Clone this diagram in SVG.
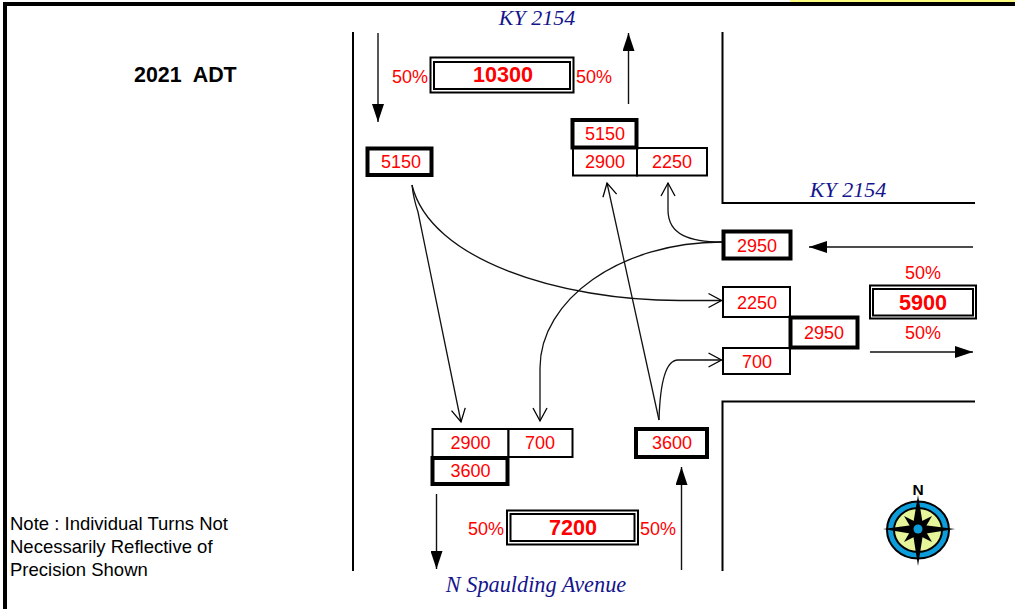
<svg xmlns="http://www.w3.org/2000/svg" width="1015" height="609" viewBox="0 0 1015 609">
<defs>
<marker id="solid" markerUnits="userSpaceOnUse" markerWidth="19" markerHeight="12" refX="18" refY="6" orient="auto"><path d="M0 0L18 6L0 12Z" fill="#000"/></marker>
<marker id="open" markerUnits="userSpaceOnUse" markerWidth="14" markerHeight="16" refX="13" refY="7" orient="auto" overflow="visible"><path d="M0 0L13 7L0 14" fill="none" stroke="#000" stroke-width="1.3"/></marker>
</defs>
<style>
text{font-family:"Liberation Sans",Arial,sans-serif;fill:#f00;font-size:18px;text-anchor:middle}
.big{font-size:21.6px;font-weight:bold}
.road{font-family:"Liberation Serif","Times New Roman",serif;font-style:italic;fill:#14148c;font-size:22px}
.blk{fill:#000;text-anchor:start;font-size:18.500px}
.thin{fill:#fff;stroke:#000;stroke-width:2}
.thick{fill:#fff;stroke:#000;stroke-width:4}
.dbl{fill:#fff;stroke:#000;stroke-width:2}
.rd{fill:none;stroke:#000;stroke-width:2}
.s{fill:none;stroke:#111;stroke-width:1.4;marker-end:url(#solid)}
.o{fill:none;stroke:#111;stroke-width:1.3;marker-end:url(#open)}
</style>
<rect width="1015" height="609" fill="#fff"/>
<rect x="790" y="0" width="225" height="2" fill="#ffff80"/>
<rect x="3" y="2" width="1012" height="4" fill="#000"/>
<rect x="3" y="2" width="4" height="607" fill="#000"/>
<g id="roads">
<path class="rd" d="M353 32V571"/>
<path class="rd" d="M722.500 32V203H975"/>
<path class="rd" d="M722.500 571V401.500H975"/>
</g>
<g id="connectors">
<path class="s" d="M378 33V122"/>
<path class="s" d="M628.500 104V33"/>
<path class="s" d="M973 247H809"/>
<path class="s" d="M870 352H973"/>
<path class="s" d="M436.500 494V569"/>
<path class="s" d="M681.500 570V467"/>
<path class="o" d="M412 185C413 195 415 203 418 212L461 422"/>
<path class="o" d="M412 185C430 260 560 300.500 680 300.500H721.500"/>
<path class="o" d="M659 420L607 183"/>
<path class="o" d="M659 420C660 385 665 360 678 360H721.500"/>
<path class="o" d="M722 242C690 242 668 235 668 210V183"/>
<path class="o" d="M722 242C620 242 540 300 540 368V421"/>
</g>
<g id="title"><text class="blk" x="134" y="82" style="font-size:21.400px;font-weight:bold;white-space:pre">2021  ADT</text></g>
<g id="note">
<text class="blk" x="10" y="529.500">Note : Individual Turns Not</text>
<text class="blk" x="10" y="552.500">Necessarily Reflective of</text>
<text class="blk" x="10" y="575.500">Precision Shown</text>
</g>
<g id="road-labels">
<text class="road" x="537" y="25">KY 2154</text>
<text class="road" x="848" y="197">KY 2154</text>
<text class="road" x="536" y="592" style="font-size:22.300px">N Spaulding Avenue</text>
</g>
<g id="adt-north">
<rect class="dbl" x="430.500" y="57.500" width="143" height="35"/><rect class="dbl" x="434" y="62" width="136" height="27"/>
<text class="big" x="503" y="82">10300</text><text x="410" y="83">50%</text><text x="594" y="83">50%</text>
</g>
<g id="adt-east">
<rect class="dbl" x="870" y="285.500" width="106" height="33"/><rect class="dbl" x="873" y="289" width="100" height="26.500"/>
<text class="big" x="923" y="310">5900</text><text x="923" y="279">50%</text><text x="923" y="339">50%</text>
</g>
<g id="adt-south">
<rect class="dbl" x="507" y="510.500" width="131" height="34"/><rect class="dbl" x="510.500" y="514" width="124" height="27"/>
<text class="big" x="573" y="535">7200</text><text x="486" y="535">50%</text><text x="658" y="535">50%</text>
</g>
<g id="n-left"><rect class="thick" x="367.500" y="148.500" width="64" height="26.500"/><text x="401" y="168">5150</text></g>
<g id="n-2900"><rect class="thin" x="573" y="148" width="64" height="27.500"/><text x="605" y="168">2900</text></g>
<g id="n-2250"><rect class="thin" x="637" y="148" width="70" height="27.500"/><text x="672" y="168">2250</text></g>
<g id="n-right"><rect class="thick" x="572.500" y="120" width="64" height="27.500"/><text x="605" y="140">5150</text></g>
<g id="e-2950a"><rect class="thick" x="723.500" y="231.500" width="67" height="27"/><text x="757" y="252">2950</text></g>
<g id="e-2250"><rect class="thin" x="723" y="287" width="67" height="30"/><text x="757" y="309">2250</text></g>
<g id="e-700"><rect class="thin" x="723" y="348" width="67" height="26"/><text x="757" y="368">700</text></g>
<g id="e-2950b"><rect class="thick" x="790.500" y="317.500" width="67" height="30"/><text x="824" y="339">2950</text></g>
<g id="s-2900"><rect class="thin" x="432.500" y="429" width="76" height="28"/><text x="470.500" y="449">2900</text></g>
<g id="s-700"><rect class="thin" x="508.500" y="429" width="64" height="28"/><text x="540" y="449">700</text></g>
<g id="s-3600a"><rect class="thick" x="432.500" y="458" width="75" height="26"/><text x="470.500" y="477">3600</text></g>
<g id="s-3600b"><rect class="thick" x="636" y="429" width="71" height="28"/><text x="672" y="449">3600</text></g>
<g id="compass">
<ellipse cx="918" cy="530" rx="31" ry="28.500" fill="#0d9ddb" stroke="#000" stroke-width="2"/>
<ellipse cx="918" cy="530" rx="24" ry="22" fill="#e6f59a" stroke="#000" stroke-width="2"/>
<path d="M918 495L923 525L955 529L923 534L918 566L913 534L883 529L913 525Z" fill="#000"/>
<path d="M932 516L922 533L914 525Z M904 516L922 525L914 533Z M932 542L914 533L922 525Z M904 542L914 525L922 533Z" fill="#000"/>
<circle cx="918" cy="529" r="4.500" fill="#0d9ddb"/>
<text x="918" y="495" style="font-size:15.500px;font-weight:bold;fill:#000">N</text>
</g>
</svg>
